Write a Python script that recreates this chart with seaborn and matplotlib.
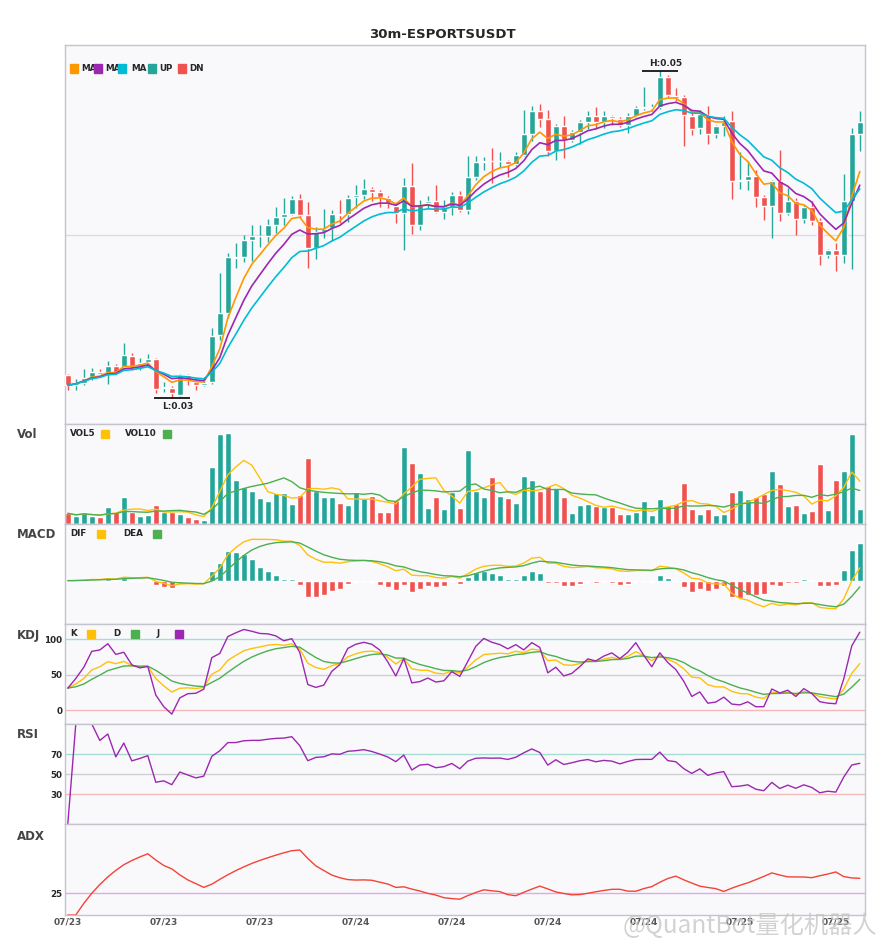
import numpy as np
import pandas as pd
import matplotlib
matplotlib.use("Agg")
import matplotlib.pyplot as plt
from matplotlib.patches import Rectangle
import seaborn as sns

symbol = "30m-ESPORTSUSDT"

# 30m candles, prices in units of 1e-4 USDT
opens = [313.9, 308.2, 309.2, 312.7, 315.6, 315.0, 319.5, 319.1, 325.6, 319.5,
         322.2, 323.8, 305.9, 306.2, 301.6, 313.9, 309.8, 307.8, 309.8, 338.6,
         352.3, 386.2, 386.8, 397.1, 399.2, 399.6, 406.3, 411.3, 413.1, 422.3,
         412.5, 391.8, 401.8, 404.3, 413.1, 412.9, 423.2, 424.8, 428.5, 426.3,
         422.8, 418.0, 413.9, 430.4, 406.3, 419.5, 420.7, 414.5, 417.0, 424.8,
         415.6, 435.7, 445.0, 445.8, 445.4, 445.8, 443.9, 449.5, 462.4, 476.5,
         471.6, 451.5, 467.3, 458.3, 463.4, 469.4, 473.1, 469.4, 473.1, 471.6,
         467.9, 473.5, 478.2, 478.2, 478.6, 497.5, 485.8, 484.8, 473.1, 465.9,
         473.7, 462.2, 466.9, 470.0, 433.0, 434.1, 436.5, 423.2, 418.2, 433.0,
         413.5, 420.7, 410.0, 417.0, 408.4, 387.9, 391.0, 387.5, 421.1, 462.2]
highs = [314.4, 311.3, 317.6, 318.5, 317.6, 322.6, 321.1, 333.5, 327.3, 324.6,
         326.9, 324.6, 309.8, 307.4, 314.4, 314.6, 310.9, 311.9, 343.1, 376.6,
         388.9, 395.0, 400.2, 406.3, 406.3, 409.8, 417.0, 422.8, 423.8, 425.4,
         420.1, 405.3, 416.0, 415.2, 421.7, 424.4, 431.0, 434.7, 429.9, 427.5,
         423.8, 419.7, 435.1, 444.3, 421.7, 423.8, 431.0, 421.3, 426.3, 426.9,
         448.8, 448.8, 447.8, 453.6, 451.1, 446.2, 451.1, 476.8, 479.2, 480.7,
         477.2, 468.3, 473.1, 464.8, 471.0, 476.6, 478.6, 476.1, 474.1, 472.4,
         475.1, 479.2, 490.9, 480.3, 500.8, 498.7, 490.5, 486.4, 476.1, 477.2,
         479.2, 467.9, 473.1, 476.6, 450.9, 445.3, 440.2, 424.8, 433.8, 452.1,
         428.9, 422.8, 418.7, 420.7, 410.4, 391.6, 395.0, 437.6, 465.9, 476.1]
lows = [304.7, 305.1, 307.8, 310.9, 312.9, 308.8, 314.4, 317.6, 317.0, 317.0,
        320.5, 302.7, 303.7, 300.0, 301.2, 307.8, 305.1, 307.2, 308.8, 335.5,
        348.9, 380.0, 383.8, 384.2, 393.0, 395.5, 401.2, 406.3, 412.5, 410.4,
        380.0, 385.2, 398.1, 396.1, 407.4, 408.0, 416.6, 422.4, 421.1, 417.0,
        416.6, 407.4, 390.9, 400.8, 403.3, 416.6, 413.9, 410.0, 412.5, 414.5,
        412.9, 434.1, 440.2, 432.0, 441.7, 435.5, 442.3, 448.4, 457.7, 466.3,
        448.8, 446.4, 447.4, 457.3, 456.0, 465.5, 465.0, 465.9, 467.9, 466.3,
        462.8, 472.4, 477.2, 476.6, 477.8, 484.4, 482.7, 454.6, 461.8, 462.2,
        456.2, 459.7, 460.7, 422.4, 428.5, 427.5, 417.6, 409.4, 398.1, 409.0,
        412.5, 400.2, 407.4, 406.3, 381.7, 385.8, 378.0, 382.7, 379.2, 451.9]
closes = [307.7, 309.4, 312.5, 315.8, 314.4, 319.5, 315.4, 326.3, 319.5, 321.5,
          324.0, 305.7, 306.8, 302.7, 313.9, 310.9, 307.8, 309.4, 338.0, 352.3,
          386.4, 386.8, 397.1, 399.6, 399.6, 406.3, 411.3, 413.1, 422.3, 412.5,
          391.8, 401.8, 403.7, 413.1, 412.5, 422.8, 424.8, 428.5, 426.3, 423.2,
          419.7, 413.9, 430.4, 406.3, 418.7, 420.7, 414.5, 417.0, 424.8, 415.6,
          435.7, 444.7, 445.8, 445.4, 445.8, 443.9, 449.5, 462.4, 476.5, 471.6,
          451.5, 467.3, 458.3, 463.4, 469.4, 473.1, 469.4, 473.1, 472.0, 467.9,
          473.5, 478.2, 478.6, 478.6, 497.5, 486.0, 484.4, 473.7, 465.3, 474.5,
          462.2, 466.9, 469.6, 433.0, 434.1, 436.5, 423.2, 418.2, 433.4, 413.9,
          420.7, 410.0, 417.0, 408.4, 387.9, 391.0, 387.5, 421.1, 462.2, 469.4]
volumes = [32, 23, 35, 23, 20, 50, 35, 80, 37, 23,
           26, 56, 37, 37, 29, 20, 14, 11, 170, 269,
           272, 131, 110, 98, 77, 68, 92, 92, 59, 86,
           197, 98, 80, 80, 62, 56, 95, 77, 83, 35,
           35, 71, 230, 182, 152, 47, 80, 44, 95, 47,
           221, 98, 80, 140, 83, 77, 62, 143, 131, 98,
           113, 107, 80, 32, 56, 59, 53, 50, 50, 29,
           29, 35, 68, 26, 74, 53, 59, 122, 44, 29,
           44, 26, 29, 95, 101, 74, 80, 89, 158, 119,
           53, 56, 32, 38, 179, 41, 131, 158, 269, 44]

date_ticks = [0, 12, 24, 36, 48, 60, 72, 84, 96]
date_labels = ["07/23", "07/23", "07/23", "07/24", "07/24", "07/24", "07/24", "07/25", "07/25"]
ma_periods = [5, 8, 13]
macd_periods = (6, 13, 5)

UP, DN = "#26A69A", "#EF5350"
MA_COLORS = ["#FF9800", "#9C27B0", "#00BCD4"]
YEL, GRN, PUR = "#FFC107", "#4CAF50", "#9C27B0"
BG = "#f9f9fc"
EDGE = "#c4c4cc"

df = pd.DataFrame({"open": opens, "high": highs, "low": lows, "close": closes}) / 1e4
df["vol"] = volumes
x = np.arange(len(df))
up = df.close >= df.open
colors = np.where(up, UP, DN)

# indicators
mas = [df.close.ewm(span=n).mean() for n in ma_periods]
vol5 = df.vol.rolling(5, min_periods=1).mean()
vol10 = df.vol.rolling(10, min_periods=1).mean()

fast, slow, sig = macd_periods
dif = df.close.ewm(span=fast).mean() - df.close.ewm(span=slow).mean()
dea = dif.ewm(span=sig).mean()
hist = 2 * (dif - dea)

low9 = df.low.rolling(9, min_periods=1).min()
high9 = df.high.rolling(9, min_periods=1).max()
rsv = (df.close - low9) / (high9 - low9) * 100
k = rsv.ewm(com=2, adjust=False).mean()
d = k.ewm(com=2, adjust=False).mean()
j = 3 * k - 2 * d

delta = df.close.diff().fillna(0)
gain = delta.clip(lower=0).ewm(alpha=1 / 14).mean()
loss = (-delta.clip(upper=0)).ewm(alpha=1 / 14).mean()
rsi = (100 * gain / (gain + loss)).fillna(0)

pc = df.close.shift()
tr = pd.concat([df.high - df.low, (df.high - pc).abs(), (df.low - pc).abs()], axis=1).max(axis=1)
upm = df.high - df.high.shift()
dnm = df.low.shift() - df.low
pdm = pd.Series(np.where((upm > dnm) & (upm > 0), upm, 0.0))
mdm = pd.Series(np.where((dnm > upm) & (dnm > 0), dnm, 0.0))
atr = tr.ewm(span=14, adjust=False).mean()
pdi = 100 * pdm.ewm(span=14, adjust=False).mean() / atr
mdi = 100 * mdm.ewm(span=14, adjust=False).mean() / atr
dx = (100 * (pdi - mdi).abs() / (pdi + mdi)).fillna(0)
adx = dx.ewm(span=14, adjust=False).mean()

# figure
sns.set_style("white")
plt.rcParams["font.family"] = ["DejaVu Sans"]
W, H = 885, 950
fig = plt.figure(figsize=(W / 100, H / 100), dpi=100)


def fx(px):
    return px / W


def fy(py):
    return 1 - py / H


def panel(top, bottom):
    ax = fig.add_axes([fx(65), fy(bottom), 800 / W, (bottom - top) / H])
    ax.set_facecolor(BG)
    for s in ax.spines.values():
        s.set_color(EDGE)
        s.set_linewidth(1)
    ax.set_xlim(-0.35, len(df) - 0.35)
    ax.tick_params(length=0, labelsize=6.3, pad=2)
    ax.set_xticks([])
    ax.set_yticks([])
    return ax


def legend(items, py):
    for label, color, tx, sx in items:
        fig.text(fx(tx), fy(py), label, fontsize=6.3, fontweight="bold",
                 va="center", ha="left", zorder=5)
        fig.add_artist(Rectangle((fx(sx), fy(py + 4)), 8 / W, 8 / H,
                                 transform=fig.transFigure, color=color, zorder=6))


def yticks(ax, vals):
    ax.set_yticks(vals)
    ax.set_yticklabels([str(v) for v in vals], fontweight="bold")


# main candles
ax = panel(45, 424)
ax.vlines(x, df.low, df.high, colors=colors, lw=1, zorder=2)
body = (df.close - df.open).abs().clip(lower=0.00002)
ax.bar(x, body, bottom=np.minimum(df.open, df.close), width=0.75, color=colors, zorder=3)
for ma, c in zip(mas, MA_COLORS):
    sns.lineplot(x=x, y=ma.values, ax=ax, color=c, lw=1.2, legend=False, zorder=4)
lo, hi = df.low.min(), df.high.max()
r = hi - lo
ax.set_ylim(lo - 0.08 * r, hi + 0.08 * r)
ax.axhline(0.04, color="#dcdce0", lw=1, zorder=1)
ih, il = int(df.high.idxmax()), int(df.low.idxmin())
ax.hlines(hi, ih - 2.25, ih + 2.25, color="black", lw=1.2, zorder=5)
ax.annotate(f"H:{hi:.2f}", (ih, hi), xytext=(4, 2), textcoords="offset points",
            ha="center", va="bottom", fontsize=6.5, fontweight="bold")
ax.hlines(lo, il - 2.25, il + 2.25, color="black", lw=1.2, zorder=5)
ax.annotate(f"L:{lo:.2f}", (il, lo), xytext=(4, -3), textcoords="offset points",
            ha="center", va="top", fontsize=6.5, fontweight="bold")
legend([("MA", MA_COLORS[0], 81, 70), ("MA", MA_COLORS[1], 105.7, 94.3),
        ("MA", MA_COLORS[2], 131.7, 118.3), ("UP", UP, 159.3, 148.3),
        ("DN", DN, 189.3, 178.3)], 68.5)

# volume
ax = panel(424, 524)
ax.bar(x, df.vol, width=0.75, color=colors)
sns.lineplot(x=x, y=vol5.values, ax=ax, color=YEL, lw=1, legend=False)
sns.lineplot(x=x, y=vol10.values, ax=ax, color=GRN, lw=1, legend=False)
ax.set_ylim(0, df.vol.max() * 1.1)
legend([("VOL5", YEL, 70, 101), ("VOL10", GRN, 125.3, 163)], 434)

# macd
ax = panel(524, 624)
ax.bar(x, hist, width=0.75, color=np.where(hist >= 0, UP, DN))
sns.lineplot(x=x, y=dif.values, ax=ax, color=YEL, lw=1, legend=False)
sns.lineplot(x=x, y=dea.values, ax=ax, color=GRN, lw=1, legend=False)
mlo = min(dif.min(), dea.min(), hist.min())
mhi = max(dif.max(), dea.max(), hist.max())
ax.set_ylim(mlo - 0.22 * (mhi - mlo), mhi + 0.22 * (mhi - mlo))
legend([("DIF", YEL, 70, 97), ("DEA", GRN, 123.3, 153)], 534)

# kdj
ax = panel(624, 724)
for v, c in [(100, "#a6dcd4"), (50, "#d0d0d4"), (0, "#f4b8b8")]:
    ax.axhline(v, color=c, lw=1, zorder=1)
sns.lineplot(x=x, y=k.values, ax=ax, color=YEL, lw=1, legend=False)
sns.lineplot(x=x, y=d.values, ax=ax, color=GRN, lw=1, legend=False)
sns.lineplot(x=x, y=j.values, ax=ax, color=PUR, lw=1, legend=False)
ax.set_ylim(-19.7, 121.5)
yticks(ax, [100, 50, 0])
legend([("K", YEL, 70, 87.3), ("D", GRN, 113.7, 131), ("J", PUR, 156.7, 175.3)], 634)

# rsi
ax = panel(724, 824)
for v, c in [(70, "#a6dcd4"), (50, "#d0d0d4"), (30, "#f4b8b8")]:
    ax.axhline(v, color=c, lw=1, zorder=1)
sns.lineplot(x=x, y=rsi.values, ax=ax, color=PUR, lw=1, legend=False)
ax.set_ylim(0, 100)
yticks(ax, [70, 50, 30])

# adx
ax = panel(824, 915)
ax.axhline(25, color="#dcaae6", lw=1, zorder=1)
sns.lineplot(x=x, y=adx.values, ax=ax, color="#F44336", lw=1, legend=False)
ax.set_ylim(adx.min(), adx.min() + (adx.max() - adx.min()) * 91 / 65)
yticks(ax, [25])
ax.set_xticks(date_ticks)
ax.set_xticklabels(date_labels, fontweight="bold", color="#555555", fontsize=6.5)
ax.tick_params(axis="x", pad=2)

for name, py in [("Vol", 434), ("MACD", 535), ("KDJ", 635), ("RSI", 735), ("ADX", 836)]:
    fig.text(fx(17), fy(py), name, fontsize=8.5, fontweight="bold", color="#444444", va="center")

fig.text(0.5, fy(34), symbol, ha="center", va="center", fontsize=9.5, fontweight="bold")
fig.text(fx(877), fy(926), "@QuantBot量化机器人", ha="right", va="center", fontsize=17.5,
         color="#c4c4c4", alpha=0.75, family=["Noto Sans CJK SC", "DejaVu Sans"], zorder=10)

fig.savefig("out.png", dpi=100, facecolor="white")
